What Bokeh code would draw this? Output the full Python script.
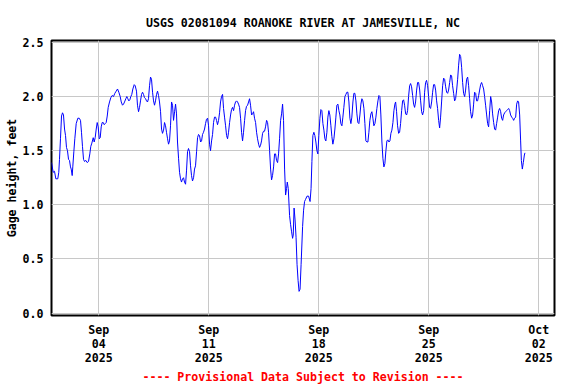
import pandas as pd
from bokeh.plotting import figure
from bokeh.models import Range1d, FixedTicker, DatetimeTickFormatter, NumeralTickFormatter, Title
from bokeh.embed import file_html
from bokeh.resources import INLINE

title_text = "USGS 02081094 ROANOKE RIVER AT JAMESVILLE, NC"
y_label = "Gage height, feet"
footer_text = "---- Provisional Data Subject to Revision ----"
start_time = "2025-09-01 00:00"
end_time = "2025-10-03 00:00"
tick_dates = ["2025-09-04", "2025-09-11", "2025-09-18", "2025-09-25", "2025-10-02"]
y_ticks = [0.0, 0.5, 1.0, 1.5, 2.0, 2.5]

# hours since 2025-09-01 00:00
hours = [
    0.0, 2.6, 4.6, 6.6, 9.6, 11.1, 12.2, 13.7, 15.3, 16.8, 18.3, 19.9, 21.4, 22.9,
    24.4, 26.0, 27.5, 29.0, 30.1, 31.6, 32.5, 34.1, 35.6, 37.7, 40.2, 42.3, 44.3,
    45.8, 47.3, 48.9, 50.4, 52.4, 54.5, 56.5, 58.5, 60.0, 61.6, 63.7, 65.2, 66.7,
    68.3, 69.8, 71.3, 72.9, 74.4, 75.9, 77.4, 79.0, 80.5, 82.0, 83.5, 85.1, 86.6,
    88.6, 90.6, 92.7, 94.7, 96.7, 98.8, 100.8, 102.8, 104.9, 106.5, 108.4, 110.0,
    111.5, 113.5, 115.0, 116.5, 118.1, 119.6, 121.1, 122.6, 124.2, 126.3, 127.8,
    129.8, 131.3, 132.9, 134.4, 135.9, 137.5, 139.0, 140.5, 142.0, 143.6, 145.1,
    146.6, 148.1, 149.7, 151.2, 152.7, 154.3, 155.8, 157.3, 158.8, 160.4, 161.9,
    163.4, 164.9, 166.5, 168.0, 169.5, 171.1, 172.6, 174.1, 175.6, 177.2, 178.7,
    180.2, 181.7, 183.3, 184.8, 186.3, 187.9, 189.4, 190.9, 192.4, 194.0, 195.5,
    197.0, 198.5, 200.1, 201.6, 203.1, 204.7, 206.2, 207.7, 209.2, 210.8, 212.3,
    213.8, 215.3, 216.9, 218.4, 219.9, 221.5, 223.0, 224.5, 226.0, 227.6, 229.1,
    230.6, 232.1, 233.7, 235.2, 236.7, 238.3, 239.8, 241.3, 242.8, 244.4, 245.9,
    247.4, 248.9, 250.5, 252.0, 253.5, 255.1, 256.6, 258.1, 259.6, 261.2, 262.7,
    264.2, 265.8, 267.3, 268.8, 270.3, 271.9, 273.4, 274.9, 276.4, 278.0, 279.5,
    281.0, 282.6, 284.1, 285.6, 287.1, 288.7, 290.2, 291.7, 293.2, 294.8, 296.3,
    297.8, 299.4, 300.9, 302.4, 303.9, 305.5, 307.0, 308.5, 310.0, 311.6, 313.1,
    314.6, 316.2, 317.7, 319.2, 320.7, 322.3, 323.8, 325.3, 326.8, 328.4, 329.9,
    331.4, 333.0, 334.5, 336.0, 337.5, 339.1, 340.6, 342.1, 343.6, 345.2, 346.7,
    348.2, 349.8, 351.3, 352.8, 354.3, 355.9, 357.4, 358.9, 360.0, 361.5, 363.5,
    365.0, 366.6, 368.1, 369.1, 370.4, 371.9, 373.4, 374.9, 376.5, 378.0, 379.5,
    381.1, 383.4, 384.9, 386.4, 387.9, 390.2, 392.5, 394.8, 396.3, 397.6, 399.1,
    400.6, 402.1, 403.7, 405.2, 406.7, 408.2, 409.8, 411.3, 412.8, 414.4, 415.9,
    417.4, 418.9, 420.5, 422.0, 423.5, 425.0, 426.6, 428.1, 429.6, 431.2, 432.7,
    434.2, 435.7, 437.3, 438.8, 440.3, 441.8, 443.4, 444.9, 446.4, 448.0, 449.5,
    451.0, 452.5, 454.1, 455.6, 457.1, 458.6, 460.2, 461.7, 463.2, 464.8, 466.3,
    467.8, 469.3, 470.9, 472.4, 473.9, 475.4, 477.0, 478.5, 480.0, 481.6, 483.1,
    484.6, 486.1, 487.7, 489.2, 490.7, 492.2, 493.8, 495.3, 496.8, 498.4, 499.9,
    501.4, 502.9, 504.5, 506.0, 507.5, 509.0, 510.6, 512.1, 513.6, 515.2, 516.7,
    518.2, 519.7, 521.3, 522.8, 524.3, 525.4, 526.9, 528.4, 530.0, 531.5, 533.0,
    534.6, 536.1, 537.6, 539.1, 540.7, 542.2, 543.7, 545.2, 546.8, 548.3, 549.8,
    551.4, 552.9, 554.4, 555.9, 557.5, 559.0, 560.5, 562.0, 563.6, 565.1, 566.6,
    568.2, 569.7, 571.2, 572.7, 574.3, 575.8, 577.3, 578.8, 580.4, 581.9, 583.4,
    585.0, 586.5, 588.0, 589.5, 591.1, 592.6, 594.1, 595.6, 597.2, 598.7, 600.2,
    601.8, 603.3, 604.8, 606.3, 607.9, 609.4, 610.9, 612.4, 614.0, 615.5, 617.0,
    618.6, 620.1, 621.6, 623.1, 624.7, 626.2, 627.7, 629.2, 630.8, 632.3, 633.8,
    635.4, 636.9, 638.4, 639.9, 641.5, 643.0, 644.5, 646.0, 647.6, 649.1, 650.6,
    652.2, 653.7, 655.2, 656.7, 658.3, 659.8, 661.3, 662.8, 664.4, 665.9, 667.4,
    669.0, 670.5, 672.0, 673.5, 675.1, 676.6, 678.1, 679.6, 681.2, 682.7, 684.2,
    685.8, 687.3, 688.8, 690.3, 691.9, 693.4, 694.9, 696.4, 698.0, 699.5, 701.0,
    702.6, 704.1, 705.6, 707.1, 708.7, 710.2, 711.7, 713.2, 714.8, 716.3, 717.4,
    718.9, 720.4, 722.0, 722.9,
]

gage_height_ft = [
    1.39, 1.30, 1.31, 1.24, 1.24, 1.30, 1.42, 1.61, 1.82, 1.85, 1.83, 1.70, 1.64, 1.53,
    1.50, 1.42, 1.41, 1.35, 1.33, 1.27, 1.35, 1.49, 1.61, 1.75, 1.80, 1.80, 1.78,
    1.67, 1.54, 1.42, 1.40, 1.41, 1.39, 1.40, 1.47, 1.54, 1.57, 1.62, 1.58, 1.62,
    1.70, 1.76, 1.72, 1.61, 1.62, 1.72, 1.76, 1.76, 1.74, 1.75, 1.76, 1.82, 1.90,
    1.95, 1.99, 2.01, 2.00, 2.03, 2.05, 2.07, 2.04, 2.00, 1.95, 1.92, 1.93,
    1.95, 1.98, 2.00, 1.98, 1.96, 1.97, 2.00, 2.02, 2.07, 2.11, 2.10,
    2.05, 1.92, 1.86, 1.90, 1.96, 2.02, 2.04, 2.02, 1.99, 1.98, 1.96,
    1.95, 1.98, 2.10, 2.18, 2.16, 2.04, 1.96, 1.92, 1.96, 2.02, 2.05,
    2.01, 1.95, 1.86, 1.70, 1.66, 1.69, 1.76, 1.73, 1.67, 1.61, 1.56,
    1.59, 1.73, 1.95, 1.92, 1.78, 1.86, 1.93, 1.84, 1.58, 1.43, 1.30,
    1.24, 1.21, 1.24, 1.25, 1.21, 1.19, 1.32, 1.49, 1.52, 1.49, 1.36,
    1.27, 1.22, 1.25, 1.33, 1.36, 1.49, 1.62, 1.65, 1.64, 1.58, 1.59,
    1.65, 1.67, 1.70, 1.75, 1.79, 1.80, 1.73, 1.56, 1.50, 1.59, 1.65,
    1.76, 1.81, 1.81, 1.78, 1.74, 1.78, 1.85, 1.95, 2.00, 2.02, 1.89,
    1.81, 1.73, 1.64, 1.61, 1.67, 1.76, 1.83, 1.88, 1.90, 1.87, 1.92,
    1.95, 1.96, 1.95, 1.93, 1.90, 1.80, 1.67, 1.59, 1.67, 1.78, 1.87,
    1.91, 1.92, 1.95, 1.98, 1.92, 1.83, 1.84, 1.86, 1.80, 1.76, 1.67,
    1.61, 1.56, 1.53, 1.55, 1.59, 1.66, 1.68, 1.68, 1.72, 1.78, 1.76,
    1.67, 1.50, 1.33, 1.23, 1.27, 1.35, 1.47, 1.47, 1.41, 1.39, 1.47,
    1.61, 1.78, 1.84, 1.93, 1.78, 1.33, 1.09, 1.15, 1.21, 1.15, 0.90,
    0.82, 0.75, 0.69, 0.72, 0.97, 0.86, 0.70, 0.45, 0.30, 0.20, 0.22,
    0.45, 0.80, 0.95, 1.03, 1.05, 1.08, 1.08, 1.03, 1.15, 1.40, 1.64,
    1.67, 1.64, 1.58, 1.50, 1.47, 1.64, 1.80, 1.88, 1.87, 1.75, 1.69,
    1.61, 1.59, 1.67, 1.81, 1.87, 1.83, 1.73, 1.63, 1.56, 1.61, 1.70,
    1.81, 1.92, 1.93, 1.87, 1.83, 1.75, 1.73, 1.81, 1.90, 2.00, 2.02,
    2.04, 2.04, 1.95, 1.80, 1.75, 1.81, 1.95, 2.03, 2.03, 1.96, 1.84,
    1.76, 1.75, 1.83, 1.93, 1.98, 1.96, 1.89, 1.75, 1.59, 1.58, 1.58,
    1.67, 1.78, 1.84, 1.86, 1.80, 1.73, 1.75, 1.81, 1.89, 1.96, 2.01,
    2.00, 1.83, 1.58, 1.43, 1.35, 1.38, 1.50, 1.59, 1.60, 1.58, 1.59,
    1.66, 1.69, 1.76, 1.87, 1.93, 1.95, 1.86, 1.73, 1.66, 1.67, 1.75,
    1.87, 1.96, 1.97, 1.92, 1.84, 1.83, 1.87, 2.00, 2.10, 2.12, 2.09,
    2.01, 1.93, 1.90, 1.95, 2.06, 2.13, 2.13, 2.07, 1.96, 1.86, 1.83,
    1.87, 2.04, 2.13, 2.15, 2.10, 2.00, 1.90, 1.89, 1.95, 2.04, 2.11,
    2.11, 2.06, 1.96, 1.89, 1.78, 1.71, 1.81, 1.95, 2.10, 2.17, 2.16,
    2.09, 2.04, 2.03, 2.06, 2.13, 2.20, 2.19, 2.10, 2.03, 1.96, 1.98,
    2.06, 2.16, 2.29, 2.39, 2.37, 2.27, 2.13, 2.03, 2.00, 2.06, 2.16,
    2.18, 2.10, 1.98, 1.86, 1.80, 1.83, 1.93, 2.04, 2.03, 1.96, 1.96,
    2.01, 2.06, 2.11, 2.13, 2.10, 2.07, 2.00, 1.92, 1.83, 1.75, 1.72,
    1.87, 2.00, 1.95, 1.84, 1.76, 1.70, 1.69, 1.75, 1.81, 1.87, 1.89,
    1.86, 1.80, 1.78, 1.83, 1.85, 1.86, 1.87, 1.88, 1.89, 1.87, 1.83,
    1.81, 1.80, 1.78, 1.80, 1.81, 1.93, 1.96, 1.95, 1.83, 1.59, 1.41,
    1.33, 1.39, 1.46, 1.48,
]

FONT = "DejaVu Sans Mono"
FS = "11.6px"

t0 = pd.Timestamp(start_time)
times = t0 + pd.to_timedelta(hours, unit="h")

p = figure(
    frame_width=503, frame_height=275,
    x_axis_type="datetime",
    x_range=Range1d(t0, pd.Timestamp(end_time)),
    y_range=Range1d(-0.023, 2.518),
    output_backend="svg", toolbar_location=None,
    min_border_left=51, min_border_right=22, min_border_top=40, min_border_bottom=69,
    background_fill_color="white", border_fill_color="white",
)

p.line(times, gage_height_ft, line_color="#0000ff", line_width=1)

p.title.text = title_text
p.title.align = "center"
p.title.text_font = FONT
p.title.text_font_style = "bold"
p.title.text_font_size = FS
p.title.text_color = "black"
p.title.standoff = 21

p.add_layout(Title(text=footer_text, align="center", text_font=FONT, text_font_style="bold",
                   text_font_size=FS, text_color="#ff0000", standoff=0), "below")

tick_ms = [pd.Timestamp(d).timestamp() * 1000 for d in tick_dates]
p.xaxis.ticker = FixedTicker(ticks=tick_ms)
p.xgrid.ticker = FixedTicker(ticks=tick_ms)
fmt = "%b\n%d\n%Y"
p.xaxis.formatter = DatetimeTickFormatter(
    microseconds=fmt, milliseconds=fmt, seconds=fmt, minsec=fmt, minutes=fmt,
    hourmin=fmt, hours=fmt, days=fmt, months=fmt, years=fmt)

p.yaxis.ticker = FixedTicker(ticks=y_ticks)
p.ygrid.ticker = FixedTicker(ticks=y_ticks)
p.yaxis.formatter = NumeralTickFormatter(format="0.0")
p.yaxis.axis_label = y_label

for ax in (p.xaxis[0], p.yaxis[0]):
    ax.axis_line_color = None
    ax.major_tick_line_color = None
    ax.minor_tick_line_color = None
    ax.major_tick_out = 0
    ax.major_tick_in = 0
    ax.minor_tick_out = 0
    ax.minor_tick_in = 0
    ax.major_label_text_font = FONT
    ax.major_label_text_font_style = "bold"
    ax.major_label_text_font_size = FS
    ax.major_label_text_color = "black"
    ax.axis_label_text_font = FONT
    ax.axis_label_text_font_style = "bold"
    ax.axis_label_text_font_size = FS
    ax.axis_label_text_color = "black"
    ax.major_label_standoff = 8

p.xaxis.major_label_text_line_height = 1.0
p.xaxis.major_label_standoff = 7
p.yaxis.axis_label_standoff = 1

p.grid.grid_line_color = "#c8c8c8"
p.grid.grid_line_width = 1
p.outline_line_color = "black"
p.outline_line_width = 2

open("out.html", "w").write(file_html(p, INLINE))
